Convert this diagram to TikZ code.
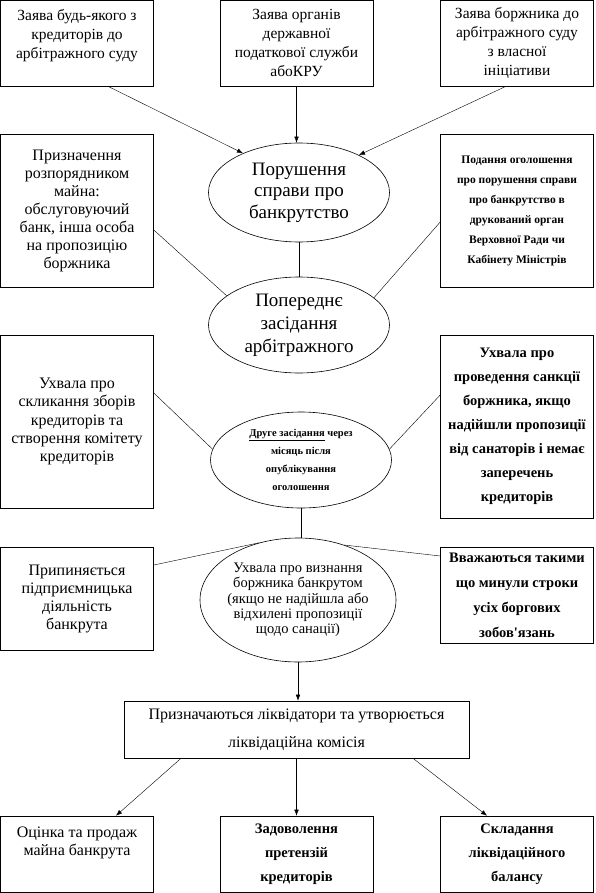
\documentclass[tikz,border=0pt]{standalone}
\usepackage{fontspec}
\setmainfont{Liberation Serif}
\usetikzlibrary{shapes.geometric,arrows.meta}
\newcommand{\rozmir}[2]{\fontsize{#1}{#2}\selectfont}

\begin{document}
\begin{tikzpicture}[x=1pt,y=-1pt,
  kader/.style={draw,line width=0.6pt,align=center,inner sep=2pt,minimum width=153pt},
  oval/.style={ellipse,draw,line width=0.6pt,align=center,inner sep=-4pt},
  zvyaz/.style={line width=0.4pt},
  strilka/.style={zvyaz,-{Latex[length=6pt,width=4.5pt]}}]
  \useasboundingbox (0,0) rectangle (595,893);

  \node[kader,minimum height=86pt,font=\rozmir{15.5}{19}] (zayava1) at (77,43)
    {Заява будь-якого з\\кредиторів до\\арбітражного суду\\[-1pt]};
  \node[kader,minimum height=86pt,font=\rozmir{15.5}{19}] (zayava2) at (296.5,43)
    {Заява органів\\державної\\податкової служби\\абоКРУ};
  \node[kader,minimum height=86pt,font=\rozmir{15.5}{19}] (zayava3) at (517,43)
    {Заява боржника до\\арбітражного суду\\з власної\\ініціативи};

  \node[oval,minimum width=181pt,minimum height=99pt,font=\rozmir{19}{21.5}] (porush) at (299,192.5)
    {Порушення\\справи про\\банкрутство};
  \node[kader,minimum height=153pt,font=\rozmir{16}{18}] (rozpor) at (77,210.5)
    {Призначення\\розпорядником\\майна:\\обслуговуючий\\банк, інша особа\\на пропозицію\\боржника};
  \node[kader,minimum height=153pt,font=\bfseries\rozmir{11.5}{20}] (podannya) at (517,210.5)
    {Подання оголошення\\про порушення справи\\про банкрутство в\\друкований орган\\Верховної Ради чи\\Кабінету Міністрів};

  \node[oval,minimum width=181pt,minimum height=96pt,font=\rozmir{19}{23}] (poper) at (299,325)
    {Попереднє\\засідання\\арбітражного};
  \node[kader,minimum height=173pt,font=\rozmir{16}{18.3}] (sklyk) at (77,421.5)
    {Ухвала про\\скликання зборів\\кредиторів та\\створення комітету\\кредиторів};
  \node[kader,minimum height=183pt,font=\bfseries\rozmir{14.5}{24}] (sanac) at (517,426.5)
    {Ухвала про\\проведення санкції\\боржника, якщо\\надійшли пропозиції\\від санаторів і немає\\заперечень\\кредиторів};
  \node[oval,minimum width=181pt,minimum height=96pt,font=\bfseries\rozmir{10.5}{18}] (druge) at (301,460)
    {\underline{Друге засідання} через\\місяць після\\опублікування\\оголошення};

  \node[oval,minimum width=196pt,minimum height=124pt,font=\rozmir{14.5}{15.3}] (vyzn) at (298,600)
    {Ухвала про визнання\\боржника банкрутом\\(якщо не надійшла або\\відхилені пропозиції\\щодо санації)};
  \node[kader,minimum height=103pt,font=\rozmir{16}{18}] (prypyn) at (77,598.5)
    {Припиняється\\підприємницька\\діяльність\\банкрута};
  \node[kader,minimum height=96pt,font=\bfseries\rozmir{14.5}{25}\addfontfeature{Ligatures=TeXOff}] (vvazh) at (517,595)
    {Вважаються такими\\що минули строки\\усіх боргових\\зобов'язань};

  \node[kader,minimum width=345pt,minimum height=57pt,font=\rozmir{16}{28}] (likv) at (296.5,729.5)
    {Призначаються ліквідатори та утворюється\\ліквідаційна комісія};
  \node[kader,minimum height=76pt,font=\rozmir{16}{18}] (ocinka) at (77,854)
    {Оцінка та продаж\\майна банкрута\\[8pt]};
  \node[kader,minimum height=76pt,font=\bfseries\rozmir{14.5}{24}] (zadov) at (296.5,854)
    {Задоволення\\претензій\\кредиторів};
  \node[kader,minimum height=76pt,font=\bfseries\rozmir{14.5}{24}] (sklad) at (517,854)
    {Складання\\ліквідаційного\\балансу};

  \draw[strilka] ([xshift=31pt]zayava1.south) -- (porush.145);
  \draw[strilka] (zayava2.south) -- (zayava2.south |- porush.north);
  \draw[strilka] ([xshift=-11pt]zayava3.south) -- (porush.32);
  \draw[zvyaz] (porush.south) -- (poper.north);
  \draw[zvyaz] ([yshift=-19.5pt]rozpor.east) -- (poper.158);
  \draw[zvyaz] ([yshift=-11.5pt]podannya.west) -- (poper.20);
  \draw[zvyaz] ([yshift=28.5pt]sklyk.east) -- (druge.173);
  \draw[zvyaz] ([yshift=31.5pt]sanac.west) -- (druge.7);
  \draw[zvyaz] (druge.south) -- (druge.south |- vyzn.north);
  \draw[zvyaz] ([yshift=33.5pt]prypyn.east) -- (vyzn.124);
  \draw[zvyaz] ([yshift=39pt]vvazh.west) -- (vyzn.50);
  \draw[strilka] (vyzn.south) -- (vyzn.south |- likv.north);
  \draw[strilka] ([xshift=-115.5pt]likv.south) -- ([xshift=39pt]ocinka.north);
  \draw[strilka] (likv.south) -- (zadov.north);
  \draw[strilka] ([xshift=116.5pt]likv.south) -- ([xshift=-30pt]sklad.north);
\end{tikzpicture}
\end{document}
